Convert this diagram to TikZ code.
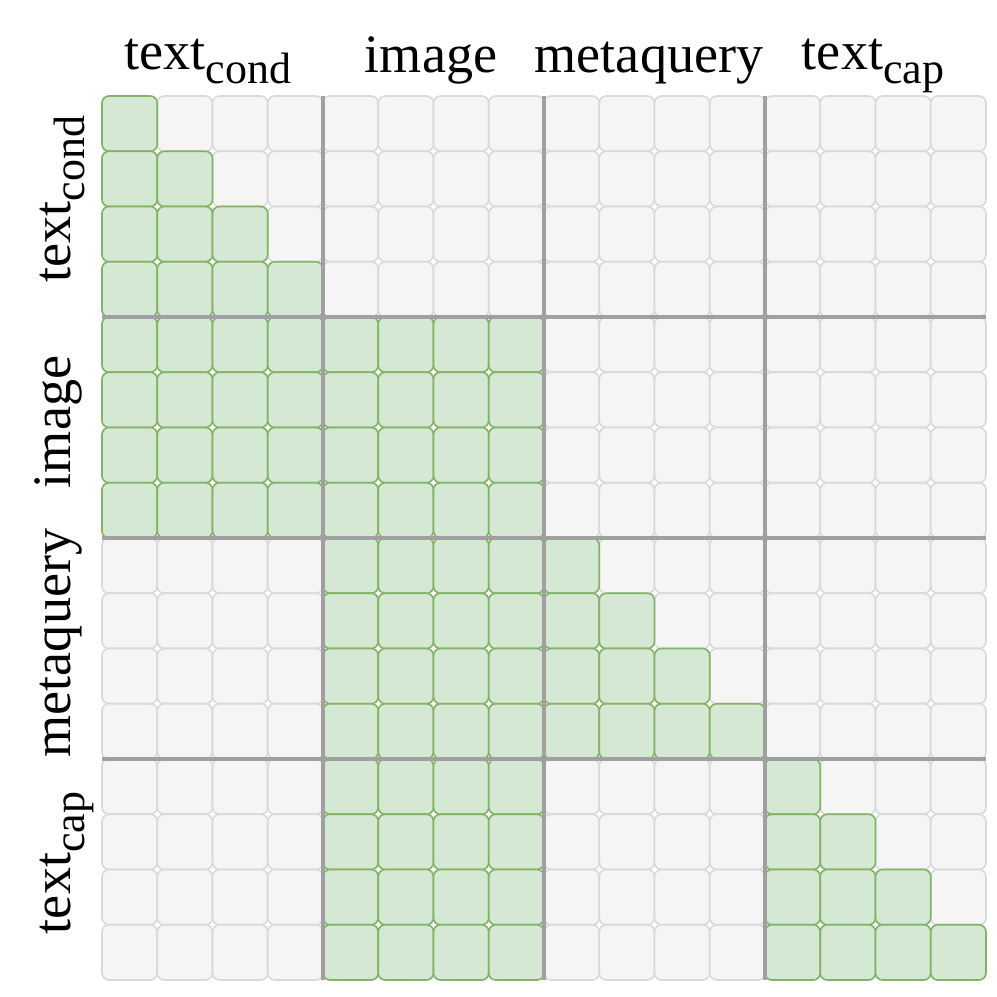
\documentclass[tikz,border=0pt]{standalone}
\usepackage{fontspec}
\setmainfont{Liberation Serif}

\definecolor{offfill}{HTML}{F5F5F5}
\definecolor{offline}{HTML}{D9D9D9}
\definecolor{onfill}{HTML}{D5E8D4}
\definecolor{online}{HTML}{82B366}
\definecolor{sepline}{HTML}{A0A0A0}

\newcommand{\lblsub}[2]{#1\raisebox{-4pt}{\fontsize{12.5pt}{14pt}\selectfont #2}}

\begin{document}
\begin{tikzpicture}[x=0.1mm, y=-0.1mm,
  offcell/.style={fill=offfill, draw=offline, line width=0.45pt, rounded corners=0.7mm},
  oncell/.style={fill=onfill, draw=online, line width=0.45pt, rounded corners=0.7mm},
  sep/.style={draw=sepline, line width=0.9pt},
  lbl/.style={font=\fontsize{15.4pt}{18pt}\selectfont, inner sep=0pt, anchor=base}]
\useasboundingbox (0,0) rectangle (997,997);

% background cells
\foreach \r in {0,...,15}
  \foreach \c in {0,...,15}
    \draw[offcell] (102+\c*55.25,96+\r*55.25) rectangle +(55.25,55.25);

% attended cells
\foreach \r in {0,...,15}
  \foreach \c in {0,...,15} {
    \pgfmathtruncatemacro{\br}{floor(\r/4)}
    \pgfmathtruncatemacro{\bc}{floor(\c/4)}
    \pgfmathtruncatemacro{\on}{((\bc==1)&&(\br>=1)) || ((\br==1)&&(\bc==0)) || ((\br==\bc)&&(\c<=\r))}
    \ifnum\on=1
      \draw[oncell] (102+\c*55.25,96+\r*55.25) rectangle +(55.25,55.25);
    \fi
  }

% block separators
\foreach \k in {1,2,3} {
  \draw[sep] (102+\k*221,96) -- (102+\k*221,980);
  \draw[sep] (102,96+\k*221) -- (986,96+\k*221);
}

% column labels
\node[lbl] (hdcond) at (208,69) {\lblsub{text}{cond}};
\node[lbl] (hdimage) at (431,72) {image};
\node[lbl] (hdmeta) at (649,72) {metaquery};
\node[lbl] (hdcap) at (873,69) {\lblsub{text}{cap}};

% row labels
\node[lbl, rotate=90] (sdcond) at (70,199) {\lblsub{text}{cond}};
\node[lbl, rotate=90] (sdimage) at (70,422) {image};
\node[lbl, rotate=90] (sdmeta) at (70,643) {metaquery};
\node[lbl, rotate=90] (sdcap) at (70,863) {\lblsub{text}{cap}};
\end{tikzpicture}
\end{document}
